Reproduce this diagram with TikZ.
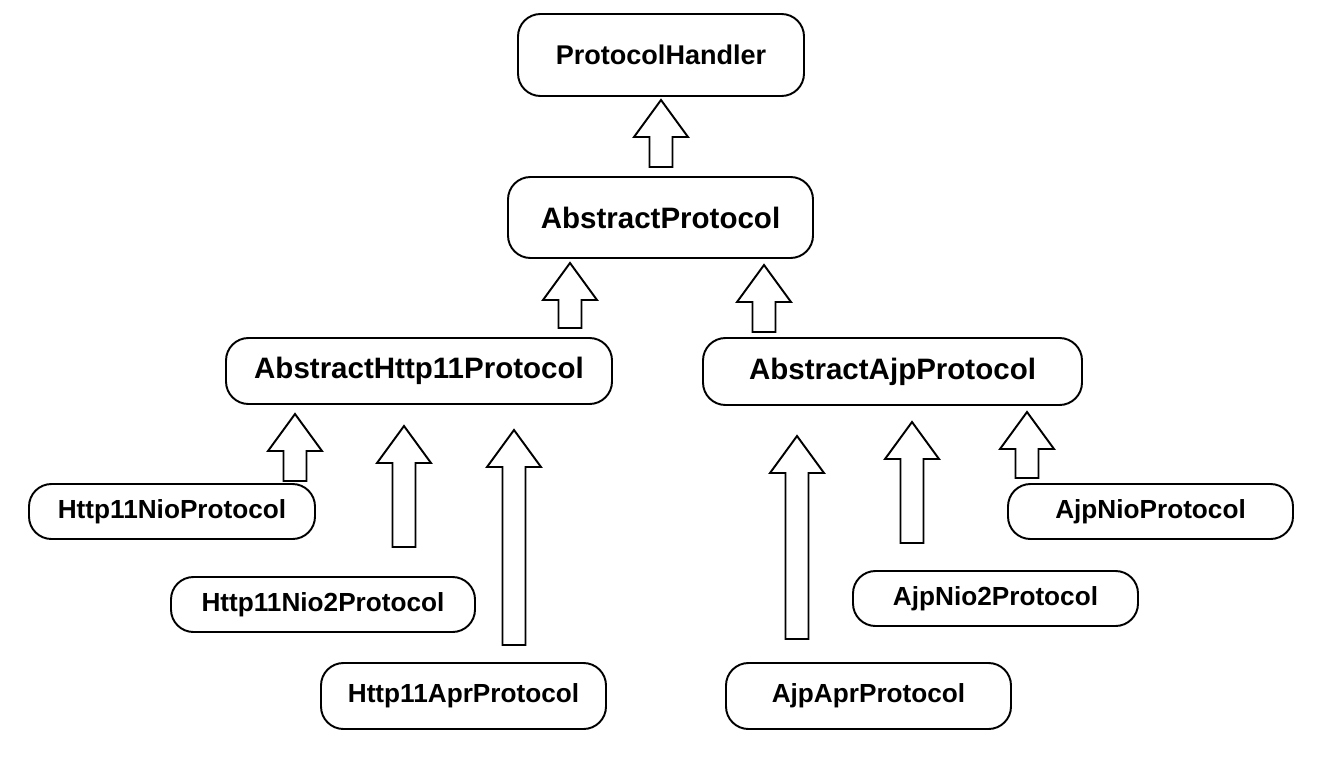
\documentclass[tikz,border=0pt]{standalone}
\usepackage{fontspec}
\setmainfont{Liberation Sans}
\usetikzlibrary{calc}

\begin{document}
\begin{tikzpicture}[
  x=0.02cm, y=-0.02cm,
  box/.style 2 args={draw, rounded corners=0.45cm, line width=1.1pt, inner sep=0pt,
    minimum width=#1*0.02cm, minimum height=#2*0.02cm,
    font=\bfseries\fontsize{14.9}{17}\selectfont},
  large/.style={font=\bfseries\fontsize{16.8}{19}\selectfont},
  upblock/.style={draw, line width=1.1pt, to path={
    ($(\tikztostart)+(-11.5,0)$) -- ($(\tikztotarget)+(-11.5,37)$)
    -- ($(\tikztotarget)+(-27,37)$) -- (\tikztotarget)
    -- ($(\tikztotarget)+(27,37)$) -- ($(\tikztotarget)+(11.5,37)$)
    -- ($(\tikztostart)+(11.5,0)$) -- cycle}}
]
\useasboundingbox (0,0) rectangle (1344,767);

\node[box={286}{82}, font=\bfseries\fontsize{15.4}{18}\selectfont] (handler) at (661,55) {ProtocolHandler};
\node[box={305}{81}, large] (abstract) at (660.5,217.5) {AbstractProtocol};
\node[box={386}{66}, large] (abshttp) at (419,371) {AbstractHttp11Protocol};
\node[box={379}{67}, large] (absajp) at (892.5,371.5) {AbstractAjpProtocol};

\node[box={286}{55}] (httpnio) at (172,511.5) {Http11NioProtocol};
\node[box={304}{55}] (httpnio2) at (323,604.5) {Http11Nio2Protocol};
\node[box={285}{66}] (httpapr) at (463.5,696) {Http11AprProtocol};

\node[box={285}{55}] (ajpnio) at (1150.5,511.5) {AjpNioProtocol};
\node[box={285}{55}] (ajpnio2) at (995.5,598.5) {AjpNio2Protocol};
\node[box={285}{66}] (ajpapr) at (868.5,696) {AjpAprProtocol};

\foreach \n/\x/\s/\e in {handler/661/167/100, abstract/570/328/263, abstractb/764/332/265,
    httpnio/295/481/414, httpnio2/404/547/426, httpapr/514/645/430,
    ajpapr/797/639/436, ajpnio2/912/543/422, ajpnio/1027/478/412} {
  \coordinate (\n-tail) at (\x,\s);
  \coordinate (\n-tip) at (\x,\e);
  \draw[upblock] (\n-tail) to (\n-tip);
}
\end{tikzpicture}
\end{document}
